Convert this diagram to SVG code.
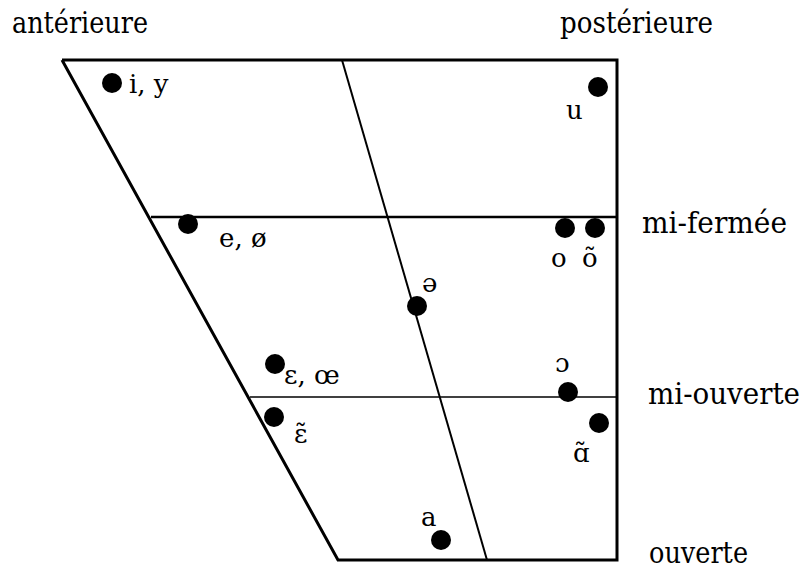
<svg xmlns="http://www.w3.org/2000/svg" width="804" height="570" viewBox="0 0 804 570">
<style>
text{font-family:'DejaVu Serif','Liberation Serif',serif;fill:#000}
.lbl{font-family:'DejaVu Serif Condensed','DejaVu Serif',serif;font-stretch:condensed;font-size:29px}
.v{font-size:26px}
.dot{fill:#000}
.edge{stroke:#000;fill:none;stroke-linecap:butt}
</style>
<rect width="804" height="570" fill="#fff"/>
<g id="connectors">
<polyline class="edge" points="62,60 617,60 617,560 338,560 62,60" stroke-width="3" stroke-linejoin="miter"/>
<line class="edge" x1="342" y1="60" x2="487" y2="560" stroke-width="2"/>
<line class="edge" x1="151" y1="217" x2="617" y2="217" stroke-width="2.5"/>
<line class="edge" x1="250" y1="397" x2="617" y2="397" stroke-width="1.6"/>
</g>
<g id="labels">
<text class="lbl" x="12" y="33" textLength="136" lengthAdjust="spacingAndGlyphs">antérieure</text>
<text class="lbl" x="560" y="33" textLength="153" lengthAdjust="spacingAndGlyphs">postérieure</text>
<text class="lbl" x="642" y="233" textLength="145" lengthAdjust="spacingAndGlyphs">mi-fermée</text>
<text class="lbl" x="648" y="404" textLength="152" lengthAdjust="spacingAndGlyphs">mi-ouverte</text>
<text class="lbl" x="649" y="563" textLength="99" lengthAdjust="spacingAndGlyphs">ouverte</text>
</g>
<g id="v-iy"><circle class="dot" cx="112" cy="83" r="10"/><text class="v" x="129" y="93">i, y</text></g>
<g id="v-u"><circle class="dot" cx="598" cy="87" r="10"/><text class="v" x="566" y="119">u</text></g>
<g id="v-e"><circle class="dot" cx="188" cy="224" r="10"/><text class="v" x="219" y="247">e, ø</text></g>
<g id="v-o"><circle class="dot" cx="565" cy="228" r="10"/><text class="v" x="551" y="267">o</text></g>
<g id="v-on"><circle class="dot" cx="595" cy="228" r="10"/><text class="v" x="582" y="267">õ</text></g>
<g id="v-schwa"><circle class="dot" cx="417" cy="306" r="10"/><text class="v" x="422" y="292">ə</text></g>
<g id="v-eps"><circle class="dot" cx="275" cy="364" r="10"/><text class="v" x="284" y="384">ɛ, œ</text></g>
<g id="v-epsn"><circle class="dot" cx="274" cy="417" r="10"/><text class="v" x="294" y="443">ɛ̃</text></g>
<g id="v-open-o"><circle class="dot" cx="568" cy="392" r="10"/><text class="v" x="555" y="372">ɔ</text></g>
<g id="v-an"><circle class="dot" cx="599" cy="423" r="10"/><text class="v" x="573" y="462">ɑ̃</text></g>
<g id="v-a"><circle class="dot" cx="441" cy="540" r="10"/><text class="v" x="421" y="526">a</text></g>
</svg>
